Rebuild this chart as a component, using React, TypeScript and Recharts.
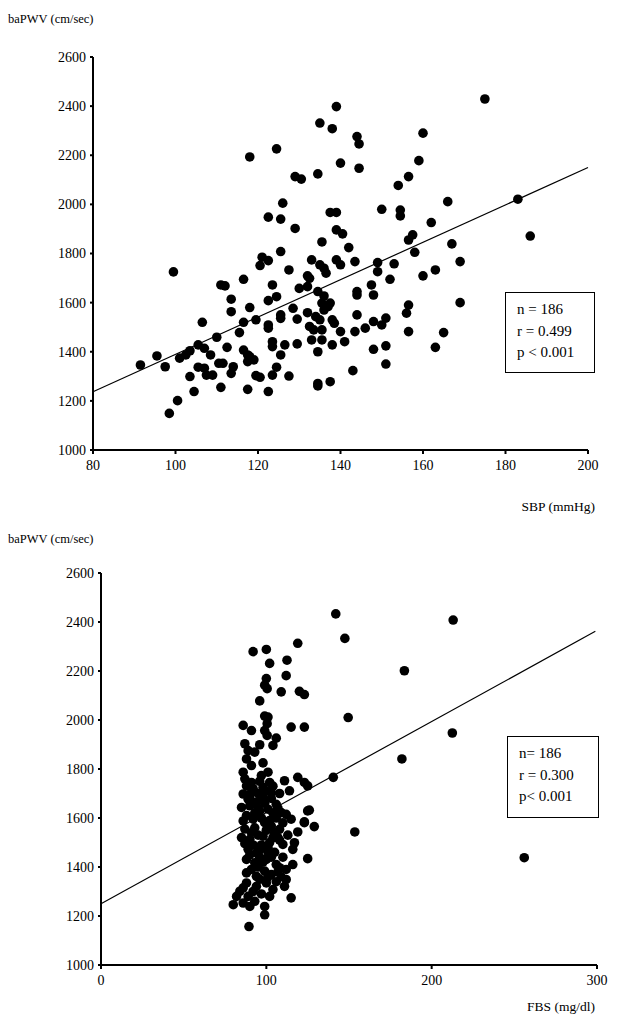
import { ScatterChart, Scatter, XAxis, YAxis, ReferenceLine } from 'recharts';

// [SBP mmHg, baPWV cm/sec]
const sbpPoints: [number, number][] = [
  [139, 2398], [135, 2331], [138, 2308], [144, 2276], [144.5, 2246], [124.5, 2226], [118, 2193], [140, 2168],
  [144.5, 2147], [134.5, 2124], [129, 2113], [130.5, 2103], [126, 2005], [122.5, 1948], [125.5, 1940], [129, 1902],
  [137.5, 1967], [139, 1967], [139, 1896], [140.5, 1880], [135.5, 1847], [142, 1824], [125.5, 1808], [121, 1785],
  [122.5, 1771], [120.5, 1751], [127.5, 1733], [133, 1774], [135, 1754], [136, 1740], [139, 1774], [140, 1754],
  [143.5, 1767], [99.5, 1725], [116.5, 1695], [132, 1709], [136.5, 1720],
  [175, 2429], [160, 2290], [159, 2178], [156.5, 2113], [154, 2077], [166, 2011], [183, 2021], [150, 1980],
  [154.5, 1977], [154.5, 1953], [162, 1926], [186, 1871], [157.5, 1876], [156.5, 1855], [167, 1839], [158, 1805],
  [169, 1767], [153, 1758], [163, 1733], [160, 1709], [149, 1763], [149, 1726], [152, 1695],
  [144, 1645], [144, 1631], [147.5, 1672], [148, 1631], [169, 1600], [156.5, 1590], [156, 1557], [137.5, 1598],
  [138, 1530], [144, 1550], [148, 1523], [150, 1509], [151, 1537], [146, 1496], [143.5, 1482], [140, 1482],
  [156.5, 1482], [165, 1478], [141, 1441], [138, 1428], [148, 1410], [151, 1424], [163, 1418], [151, 1350],
  [143, 1323], [137.5, 1278],
  [111, 1672], [112, 1668], [123.5, 1672], [130, 1658], [132, 1665], [132.5, 1699], [113.5, 1614], [122.5, 1608],
  [124.5, 1624], [134.5, 1645], [136, 1627], [135.5, 1598], [137, 1584], [136, 1570], [113.5, 1563], [118, 1580],
  [128.5, 1577], [132, 1559], [125.5, 1550], [125.5, 1536], [106.5, 1520], [116.5, 1520], [119.5, 1530], [122.5, 1509],
  [122.5, 1496], [129.5, 1533], [134, 1543], [135, 1530], [138.5, 1516], [115.5, 1478], [110, 1459], [132.5, 1503],
  [133.5, 1489], [135.5, 1489], [123.5, 1441], [123.5, 1421], [126.5, 1428], [129.5, 1432], [133, 1448], [135.5, 1448],
  [105.5, 1428], [107, 1414], [108.5, 1387], [112.5, 1418], [103.5, 1404], [101, 1374], [102.5, 1387], [95.5, 1383],
  [91.5, 1346], [97.5, 1339], [116.5, 1407], [117.5, 1387], [117.5, 1360], [118, 1380], [119, 1367], [125.5, 1387],
  [134.5, 1400], [105.5, 1337], [107, 1333], [107.5, 1305], [109, 1305], [110.5, 1353], [111.5, 1353], [114, 1339],
  [113.5, 1312], [124.5, 1337], [103.5, 1299], [119.5, 1303], [120.5, 1296], [123.5, 1305], [127.5, 1301], [111, 1255],
  [104.5, 1238], [117.5, 1247], [122.5, 1238], [134.5, 1271], [134.5, 1261], [100.5, 1201], [98.5, 1149],
];

// [FBS mg/dl, baPWV cm/sec]
const fbsPoints: [number, number][] = [
  [119, 2313], [92, 2279], [100, 2288], [102, 2231], [112.5, 2244], [112, 2181], [100, 2169], [100.5, 2128],
  [99, 2142], [109, 2115], [120, 2117], [123, 2104], [96, 2078], [99, 2016], [101, 2012], [100.5, 1985],
  [99, 1957], [100.5, 1937], [86, 1978], [91, 1957], [115, 1971], [123, 1971], [106, 1926], [104, 1896],
  [87, 1903], [89, 1875], [96, 1899], [93, 1869], [88, 1841], [91, 1814], [98, 1825], [86, 1787],
  [101, 1787], [97, 1773], [102, 1745], [91, 1745], [88, 1731], [98, 1725], [111, 1752], [114, 1711],
  [119, 1766], [123, 1745], [125, 1731], [140.5, 1766],
  [89, 1677], [98, 1684], [103, 1704], [86, 1698], [95, 1700], [91, 1705],
  [85, 1643], [90, 1650], [96, 1629], [101, 1636], [106, 1656], [109, 1622], [125, 1629], [112, 1615],
  [115, 1595], [123, 1581], [129, 1565], [86, 1588], [92, 1595], [99, 1581], [103, 1567], [108, 1554],
  [119, 1543], [85, 1520], [90, 1513], [98, 1526], [107, 1520], [110, 1492], [117, 1499], [116, 1472],
  [89, 1472], [94, 1458], [99, 1479], [125, 1434], [88, 1431], [93, 1417], [100, 1431], [106, 1410],
  [108, 1397], [116, 1410], [88, 1376], [94, 1362], [99, 1383], [103, 1369], [112, 1390], [112, 1349],
  [111, 1321], [88, 1335], [94, 1321], [100, 1335], [104, 1308], [84, 1301], [82, 1280], [89, 1280],
  [80, 1246], [86, 1253], [90, 1239], [115, 1274], [99, 1239], [99, 1205], [89.5, 1157],
  [93, 1560], [97, 1490], [104, 1620], [95, 1640], [102, 1500], [105, 1540], [96, 1440], [101, 1460],
  [87, 1760], [92, 1720], [96, 1750], [100, 1710], [104, 1730], [108, 1700], [90, 1680], [94, 1665],
  [99, 1660], [103, 1680], [107, 1640], [88, 1610], [93, 1620], [97, 1600], [102, 1590], [106, 1600],
  [110, 1580], [87, 1555], [91, 1540], [95, 1530], [100, 1550], [104, 1520], [108, 1510], [113, 1530],
  [87, 1495], [92, 1490], [96, 1470], [101, 1480], [105, 1460], [110, 1440], [90, 1450], [95, 1400],
  [98, 1420], [103, 1440], [107, 1380], [91, 1390], [96, 1350], [101, 1360], [106, 1340], [109, 1360],
  [86, 1315], [92, 1300], [97, 1290], [102, 1280], [93, 1260],
  [142, 2433], [213, 2408], [147.5, 2333], [183.5, 2201], [149.5, 2010], [212.5, 1947], [182, 1841],
  [126, 1632], [123, 1584], [153.5, 1543], [256, 1438],
];

const pwvTicks = [1000, 1200, 1400, 1600, 1800, 2000, 2200, 2400, 2600];
const sbpTicks = [80, 100, 120, 140, 160, 180, 200];
const fbsTicks = [0, 100, 200, 300];

const sbpFit = [{ x: 80, y: 1237 }, { x: 200, y: 2150 }];
const fbsFit = [{ x: 0, y: 1250 }, { x: 299, y: 2362 }];

const sbpStats = ['n = 186', 'r = 0.499', 'p < 0.001'];
const fbsStats = ['n= 186', 'r = 0.300', 'p< 0.001'];

const FONT = '"Liberation Serif", "Times New Roman", serif';

const Dot = (props: any) => <circle cx={props.cx} cy={props.cy} r={4.8} fill="#000" />;

interface PanelProps {
  top: number;
  height: number;
  margin: { top: number; right: number; bottom: number; left: number };
  points: [number, number][];
  xDomain: [number, number];
  xTicks: number[];
  fit: { x: number; y: number }[];
  stats: string[];
  box: { left: number; top: number; width: number; height: number };
  xTitle: string;
  xTitleTop: number;
}

const Panel = ({ top, height, margin, points, xDomain, xTicks, fit, stats, box, xTitle, xTitleTop }: PanelProps) => {
  const data = points.map(([x, y]) => ({ x, y }));
  const tick = { fill: '#000', fontSize: 14, fontFamily: FONT };
  return (
    <div style={{ position: 'absolute', left: 0, top, width: 632, height }}>
      <ScatterChart width={632} height={height} margin={margin}>
        <XAxis
          type="number"
          dataKey="x"
          domain={xDomain}
          ticks={xTicks}
          height={30}
          tickSize={4}
          tickMargin={6}
          tick={tick}
          axisLine={{ stroke: '#000', strokeWidth: 2 }}
          tickLine={{ stroke: '#000', strokeWidth: 2 }}
        />
        <YAxis
          type="number"
          dataKey="y"
          domain={[1000, 2600]}
          ticks={pwvTicks}
          width={50}
          tickSize={3}
          tickMargin={4}
          tick={tick}
          axisLine={{ stroke: '#000', strokeWidth: 2 }}
          tickLine={{ stroke: '#000', strokeWidth: 2 }}
        />
        <ReferenceLine segment={fit} stroke="#000" strokeWidth={1.2} ifOverflow="visible" />
        <Scatter data={data} shape={Dot} isAnimationActive={false} />
      </ScatterChart>
      <div style={{ position: 'absolute', left: 8, top: 12, fontFamily: FONT, fontSize: 12.5, color: '#000' }}>
        baPWV (cm/sec)
      </div>
      <div
        style={{
          position: 'absolute',
          right: 37,
          top: xTitleTop,
          fontFamily: FONT,
          fontSize: 13.5,
          color: '#000',
        }}
      >
        {xTitle}
      </div>
      <div
        style={{
          position: 'absolute',
          left: box.left,
          top: box.top,
          width: box.width,
          height: box.height,
          boxSizing: 'border-box',
          border: '1.5px solid #000',
          background: '#fff',
          padding: '6px 0 0 11px',
          fontFamily: FONT,
          fontSize: 15,
          lineHeight: '21.5px',
          color: '#000',
        }}
      >
        {stats.map((s) => (
          <div key={s}>{s}</div>
        ))}
      </div>
    </div>
  );
};

export default function App() {
  return (
    <div style={{ position: 'absolute', left: 0, top: 0, width: 632, height: 1025, background: '#fff' }}>
      <Panel
        top={0}
        height={520}
        margin={{ top: 57, right: 44, bottom: 40, left: 43 }}
        points={sbpPoints}
        xDomain={[80, 200]}
        xTicks={sbpTicks}
        fit={sbpFit}
        stats={sbpStats}
        box={{ left: 505, top: 292, width: 90, height: 81 }}
        xTitle="SBP (mmHg)"
        xTitleTop={499}
      />
      <Panel
        top={520}
        height={505}
        margin={{ top: 53, right: 35, bottom: 30, left: 51 }}
        points={fbsPoints}
        xDomain={[0, 300]}
        xTicks={fbsTicks}
        fit={fbsFit}
        stats={fbsStats}
        box={{ left: 507, top: 216, width: 92, height: 82 }}
        xTitle="FBS (mg/dl)"
        xTitleTop={479}
      />
    </div>
  );
}
